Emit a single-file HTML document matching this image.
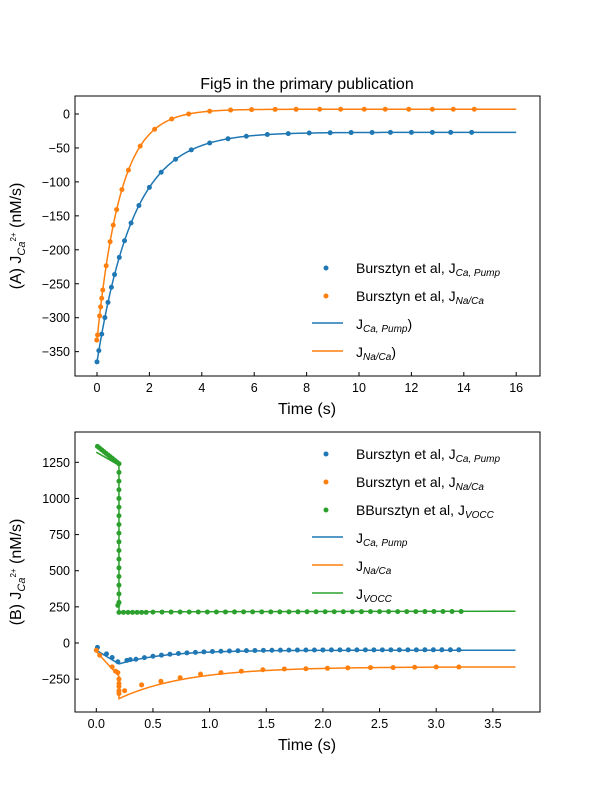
<!DOCTYPE html><html><head><meta charset="utf-8"><style>body{margin:0;background:#fff}svg{display:block;font-family:"Liberation Sans","DejaVu Sans",sans-serif}</style></head><body>
<svg id="s" width="600" height="800" xmlns="http://www.w3.org/2000/svg">
<rect width="600" height="800" fill="#fff"/>
<text x="307" y="89" font-size="16" text-anchor="middle">Fig5 in the primary publication</text>
<g id="g1"></g><g id="g2"></g>
<rect x="75" y="96" width="465" height="280" fill="none" stroke="#000" stroke-width="1"/>
<rect x="75" y="432" width="465" height="280" fill="none" stroke="#000" stroke-width="1"/>
<g font-size="12" fill="#000">
<text x="307" y="414" font-size="16" text-anchor="middle">Time (s)</text>
<text x="307" y="750" font-size="16" text-anchor="middle">Time (s)</text>
<text transform="translate(21,236) rotate(-90)" font-size="16" text-anchor="middle">(A) J<tspan font-size="11" font-style="italic" dy="4">Ca</tspan><tspan font-size="8" dy="-9">2+</tspan><tspan dy="5"> (nM/s)</tspan></text>
<text transform="translate(21,572) rotate(-90)" font-size="16" text-anchor="middle">(B) J<tspan font-size="11" font-style="italic" dy="4">Ca</tspan><tspan font-size="8" dy="-9">2+</tspan><tspan dy="5"> (nM/s)</tspan></text>
</g>
<g font-size="14">
<circle cx="326" cy="268" r="2.5" fill="#1f77b4"/><text x="356" y="273">Bursztyn et al, J<tspan font-size="10" font-style="italic" dy="3">Ca, Pump</tspan></text>
<circle cx="326" cy="296" r="2.5" fill="#ff7f0e"/><text x="356" y="301">Bursztyn et al, J<tspan font-size="10" font-style="italic" dy="3">Na/Ca</tspan></text>
<line x1="312" y1="323" x2="343" y2="323" stroke="#1f77b4" stroke-width="1.5"/><text x="356" y="329">J<tspan font-size="10" font-style="italic" dy="3">Ca, Pump</tspan><tspan dy="-3">)</tspan></text>
<line x1="312" y1="351" x2="343" y2="351" stroke="#ff7f0e" stroke-width="1.5"/><text x="356" y="357">J<tspan font-size="10" font-style="italic" dy="3">Na/Ca</tspan><tspan dy="-3">)</tspan></text>
<circle cx="326" cy="454" r="2.5" fill="#1f77b4"/><text x="356" y="459">Bursztyn et al, J<tspan font-size="10" font-style="italic" dy="3">Ca, Pump</tspan></text>
<circle cx="326" cy="482" r="2.5" fill="#ff7f0e"/><text x="356" y="487">Bursztyn et al, J<tspan font-size="10" font-style="italic" dy="3">Na/Ca</tspan></text>
<circle cx="326" cy="510" r="2.5" fill="#2ca02c"/><text x="356" y="515">BBursztyn et al, J<tspan font-size="10" font-style="italic" dy="3">VOCC</tspan></text>
<line x1="312" y1="537" x2="343" y2="537" stroke="#1f77b4" stroke-width="1.5"/><text x="356" y="543">J<tspan font-size="10" font-style="italic" dy="3">Ca, Pump</tspan></text>
<line x1="312" y1="565" x2="343" y2="565" stroke="#ff7f0e" stroke-width="1.5"/><text x="356" y="571">J<tspan font-size="10" font-style="italic" dy="3">Na/Ca</tspan></text>
<line x1="312" y1="593" x2="343" y2="593" stroke="#2ca02c" stroke-width="1.5"/><text x="356" y="599">J<tspan font-size="10" font-style="italic" dy="3">VOCC</tspan></text>
</g>
</svg>
<script>
var NS="http://www.w3.org/2000/svg";
function el(p,t,a,txt){var e=document.createElementNS(NS,t);for(var k in a)e.setAttribute(k,a[k]);if(txt!==undefined)e.textContent=txt;p.appendChild(e);return e;}
var B="#1f77b4",O="#ff7f0e",G="#2ca02c";
var g1=document.getElementById("g1");
function X1(t){return 97+t*26.2}function Y1(v){return 114-v*33.95/50}
for(var t=0;t<=16;t+=2){var x=X1(t);el(g1,"line",{x1:x,y1:376,x2:x,y2:372,stroke:"#000"});el(g1,"text",{x:x,y:392,"font-size":12.5,"text-anchor":"middle"},t);}
for(var v=0;v>=-350;v-=50){var y=Y1(v);el(g1,"line",{x1:75,y1:y,x2:79,y2:y,stroke:"#000"});el(g1,"text",{x:70,y:y+4.5,"font-size":12.5,"text-anchor":"end"},v==0?"0":"\u2212"+(-v));}
function p1(t){return -27-338*Math.exp(-t/1.4)}function n1(t){return 7-340*Math.exp(-t/0.9)}
function path(g,f,X,Y,a,b,c){var d="";for(var t=a;t<=b+1e-9;t+=(b-a)/400){d+=(d?"L":"M")+X(t).toFixed(2)+","+Y(f(t)).toFixed(2);}el(g,"path",{d:d,fill:"none",stroke:c,"stroke-width":1.5});}
path(g1,p1,X1,Y1,0,16,B);path(g1,n1,X1,Y1,0,16,O);
var ts=[0,0.07,0.18,0.3,0.42,0.55,0.67,0.85,1.05,1.3,1.6,2,2.45,3,3.6,4.3,5,5.7,6.5,7.3,8.1,8.9,9.7,10.5,11.2,12,12.8,13.5,14.3];
ts.forEach(function(t){el(g1,"circle",{cx:X1(t),cy:Y1(p1(t)),r:2.5,fill:B});});
var tn=[-0.01,0.02,0.1,0.14,0.18,0.22,0.35,0.5,0.62,0.75,0.95,1.2,1.65,2.2,2.85,3.5,4.3,5.1,5.9,6.8,7.6,8.5,9.3,10.2,11,11.9,12.8,13.6,14.4];
tn.forEach(function(t){el(g1,"circle",{cx:X1(t),cy:Y1(n1(Math.max(t,0))),r:2.5,fill:O});});
var g2=document.getElementById("g2");
function X2(t){return 96.3+t*113.3}function Y2(v){return 643-v*36.14/250}
for(var t=0;t<=3.5;t+=0.5){var x=X2(t);el(g2,"line",{x1:x,y1:712,x2:x,y2:708,stroke:"#000"});el(g2,"text",{x:x,y:728,"font-size":12.5,"text-anchor":"middle"},t.toFixed(1));}
for(var v=-250;v<=1250;v+=250){var y=Y2(v);el(g2,"line",{x1:75,y1:y,x2:79,y2:y,stroke:"#000"});el(g2,"text",{x:70,y:y+4.5,"font-size":12.5,"text-anchor":"end"},v<0?"\u2212"+(-v):v);}
function p2(t){return t<0.2?-50-95*t/0.2:-50-95*Math.exp(-(t-0.2)/0.4)}
function n2(t){return t<0.2?-60-170*t/0.2:-165-220*Math.exp(-(t-0.2)/0.6)}
function line(g,pts,c){var d=pts.map(function(p,i){return(i?"L":"M")+X2(p[0]).toFixed(2)+","+Y2(p[1]).toFixed(2)}).join("");el(g,"path",{d:d,fill:"none",stroke:c,"stroke-width":1.5});}
var a=[],b=[];for(var i=0;i<=400;i++){var t=i*3.7/400;a.push([t,p2(t)]);}
line(g2,a,B);
b.push([0,-60],[0.2,-230],[0.2,-385]);for(var i=1;i<=300;i++){var t=0.2+i*3.5/300;b.push([t,n2(t)]);}line(g2,b,O);
line(g2,[[0,1320],[0.2,1230],[0.2,215],[0.5,216],[3.7,220]],G);
var bd=[[0.01,-30],[0.09,-75],[0.14,-100],[0.19,-130],[0.27,-120],[0.3,-115]];for(var t=0.35;t<=3.25;t+=0.075)bd.push([t,p2(t)+3]);
bd.forEach(function(p){el(g2,"circle",{cx:X2(p[0]),cy:Y2(p[1]),r:2.5,fill:B});});
var od=[[0.0,-50],[0.03,-85],[0.14,-165],[0.17,-195],[0.19,-205],[0.2,-250],[0.2,-280],[0.2,-300],[0.2,-330],[0.2,-350],[0.25,-330],[0.4,-290],[0.57,-265],[0.74,-240],[0.92,-215],[1.1,-205],[1.28,-195],[1.47,-185],[1.66,-180],[1.85,-178],[2.04,-175],[2.22,-172],[2.42,-170],[2.62,-170],[2.81,-168],[3.0,-166],[3.2,-166]];
od.forEach(function(p){el(g2,"circle",{cx:X2(p[0]),cy:Y2(p[1]),r:2.5,fill:O});});
var gd=[];for(var i=0;i<=10;i++){var t=0.01+i*0.019;gd.push([t,1360-120*i/10]);}
for(var v=1240;v>=270;v-=60)gd.push([0.2,v]);gd.push([0.19,260],[0.2,280]);
for(var t=0.2;t<0.45;t+=0.04)gd.push([t,212]);for(var t=0.5;t<=3.25;t+=0.08)gd.push([t,213+5*(t/3.2)]);
gd.forEach(function(p){el(g2,"circle",{cx:X2(p[0]),cy:Y2(p[1]),r:2.5,fill:G});});
</script>
</body></html>
